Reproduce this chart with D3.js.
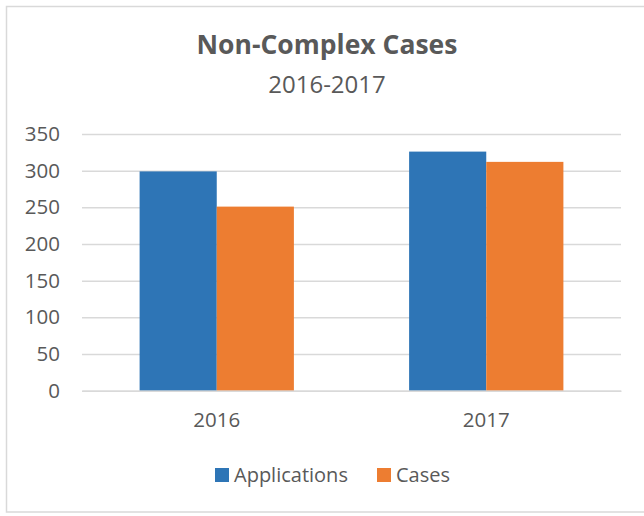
<!DOCTYPE html>
<html>
<head>
<meta charset="utf-8">
<script src="https://cdn.jsdelivr.net/npm/d3@7"></script>
<style>
  html, body { margin: 0; padding: 0; background: #fff; overflow: hidden; }
  text { font-family: "Open Sans", "Noto Sans", sans-serif; fill: #595959; }
</style>
</head>
<body>
<svg width="644" height="516"></svg>
<script>
var years = ["2016", "2017"]
var seriesNames = ["Applications", "Cases"]
var applications = [299, 326]
var cases = [251, 312]
var yTicks = [0, 50, 100, 150, 200, 250, 300, 350]
var colors = ["#2E75B6", "#ED7D31"]

var svg = d3.select("svg")

// outer chart border
svg.append("rect")
    .attr("x", 6.5).attr("y", 6.5)
    .attr("width", 660).attr("height", 505.5)
    .attr("fill", "white").attr("stroke", "#D9D9D9").attr("stroke-width", 1.5)

// titles
svg.append("text")
    .text("Non-Complex Cases")
    .attr("x", 327).attr("y", 54)
    .attr("text-anchor", "middle")
    .style("font-size", "26.5px").style("font-weight", "bold")
svg.append("text")
    .text("2016-2017")
    .attr("x", 327).attr("y", 93)
    .attr("text-anchor", "middle")
    .style("font-size", "24px")

var y = d3.scaleLinear().domain([0, 350]).range([390.7, 134])
var x = d3.scaleBand().domain(years).range([82, 621])
    .paddingInner(0.4275).paddingOuter(0.21375)
var xs = d3.scaleBand().domain(seriesNames).range([0, x.bandwidth()])

//Gridlines + y labels
var yAxis = svg.append("g")
    .attr("transform", "translate(82,0)")
    .call(d3.axisLeft(y).tickValues(yTicks).tickSize(-539).tickPadding(22))
yAxis.select(".domain").remove()
yAxis.selectAll("line").attr("stroke", "#D9D9D9").attr("stroke-width", 1.5)
yAxis.selectAll("text").style("font-size", "20.5px").attr("fill", "#595959")

// bars
var rows = years.map(function (yr, i) {
    return { year: yr, values: [applications[i], cases[i]] }
})
var groups = svg.selectAll(".yr").data(rows).join("g")
    .attr("class", "yr")
    .attr("transform", function (d) { return "translate(" + x(d.year) + ",0)" })
groups.selectAll("rect").data(function (d) {
    return d.values.map(function (v, j) { return { name: seriesNames[j], v: v, c: colors[j] } })
}).join("rect")
    .attr("x", function (d) { return xs(d.name) })
    .attr("width", xs.bandwidth())
    .attr("y", function (d) { return y(d.v) })
    .attr("height", function (d) { return y(0) - y(d.v) })
    .attr("fill", function (d) { return d.c })

// x axis labels
var xAxis = svg.append("g")
    .attr("transform", "translate(0," + y(0) + ")")
    .call(d3.axisBottom(x).tickSize(0).tickPadding(22))
xAxis.select(".domain").attr("stroke", "#D9D9D9").attr("stroke-width", 1.5)
xAxis.selectAll("text").style("font-size", "20.5px").attr("fill", "#595959")

// legend
var legendX = [215, 377]
var legend = svg.selectAll(".leg").data(seriesNames).join("g")
    .attr("class", "leg")
    .attr("transform", function (d, i) { return "translate(" + legendX[i] + ",468)" })
legend.append("rect").attr("width", 14).attr("height", 14)
    .attr("fill", function (d, i) { return colors[i] })
legend.append("text").text(function (d) { return d })
    .attr("x", 19).attr("y", 14)
    .style("font-size", "20px")
</script>
</body>
</html>
